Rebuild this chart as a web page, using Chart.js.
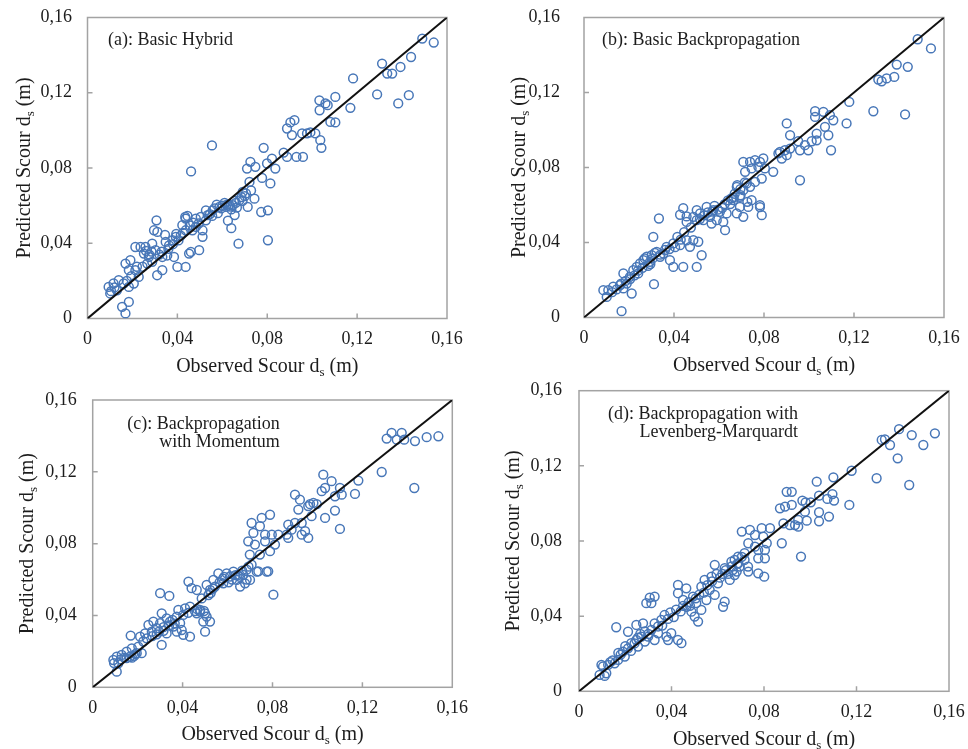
<!DOCTYPE html>
<html>
<head>
<meta charset="utf-8">
<script src="https://cdn.jsdelivr.net/npm/chart.js@4.4.1/dist/chart.umd.min.js"></script>
<style>
  html, body { margin: 0; padding: 0; background: #fff; }
  #wrap { position: relative; width: 968px; height: 749px; }
  #wrap canvas { position: absolute; left: 0; top: 0; }
</style>
</head>
<body>
<div id="wrap">
  <canvas id="chart-a" width="968" height="749"></canvas>
  <canvas id="chart-b" width="968" height="749"></canvas>
  <canvas id="chart-c" width="968" height="749"></canvas>
  <canvas id="chart-d" width="968" height="749"></canvas>
</div>
<script>
// tick values shared by both axes of every panel
const axisTicks = [0, 0.04, 0.08, 0.12, 0.16];
// 1:1 line
const lineEnds = [0, 0.16];

// [observed, predicted] pairs
const hybridPts = [
  [0.149,0.1488],[0.1541,0.1467],[0.144,0.139],[0.1393,0.1337],[0.1311,0.1355],[0.1334,0.1302],[0.1356,0.1302],
  [0.1182,0.1276],[0.1289,0.1191],[0.143,0.1187],[0.1383,0.1143],[0.117,0.112],[0.1032,0.116],[0.1103,0.1178],
  [0.1069,0.1134],[0.1033,0.1107],[0.1059,0.1143],[0.1081,0.1045],[0.1103,0.1042],[0.1036,0.0948],[0.1041,0.0907],
  [0.1014,0.0984],[0.0903,0.1042],[0.0921,0.1054],[0.0888,0.101],[0.091,0.0975],[0.0955,0.0984],[0.0977,0.0984],
  [0.0992,0.0989],[0.0784,0.0907],[0.0873,0.0882],[0.093,0.0859],[0.0959,0.0859],[0.0888,0.0859],[0.0821,0.085],
  [0.0799,0.0824],[0.0725,0.0833],[0.0747,0.0806],[0.071,0.0797],[0.0836,0.0797],[0.0814,0.0718],[0.0777,0.0747],
  [0.0554,0.092],[0.0461,0.0782],
  [0.0721,0.0726],[0.0691,0.0673],[0.0728,0.0681],[0.0743,0.0637],[0.0713,0.0593],[0.0676,0.0628],[0.0646,0.0602],
  [0.0616,0.0593],[0.0773,0.0566],[0.0803,0.0575],[0.0803,0.0416],[0.0672,0.0398],
  [0.0587,0.0593],[0.0557,0.0575],[0.0527,0.0575],[0.0504,0.054],[0.0482,0.0531],[0.0527,0.0522],
  [0.0437,0.0531],[0.0422,0.0496],[0.0437,0.0469],[0.0482,0.0487],[0.0512,0.0469],[0.0512,0.0434],[0.0467,0.0469],
  [0.0393,0.0434],[0.0378,0.0416],[0.0363,0.0389],[0.0348,0.0407],
  [0.0497,0.0363],[0.0452,0.0345],[0.046,0.0354],[0.0437,0.0274],[0.04,0.0274],[0.0385,0.0327],
  [0.0307,0.0522],[0.0296,0.0469],[0.0311,0.046],
  [0.0213,0.038],[0.0236,0.038],[0.0258,0.038],[0.0288,0.0398],[0.0251,0.0345],[0.0273,0.0327],[0.0333,0.0327],[0.0303,0.0363],
  [0.0266,0.0292],[0.0288,0.0301],[0.031,0.023],[0.0333,0.0257],
  [0.0169,0.0292],[0.0191,0.031],[0.0184,0.0257],[0.0213,0.0257],[0.0228,0.0221],
  [0.0139,0.0204],[0.0161,0.0186],[0.0184,0.0168],[0.0206,0.0186],
  [0.0094,0.0168],[0.0116,0.0186],[0.0101,0.0133],[0.0131,0.015],
  [0.0154,0.0062],[0.0169,0.0027],[0.0184,0.0088],
  [0.0565,0.0585],[0.06,0.06],[0.062,0.0605],[0.0635,0.0595],[0.058,0.056],[0.064,0.058],[0.066,0.0615],
  [0.0545,0.0555],[0.07,0.065],[0.069,0.0625],[0.0655,0.055],[0.0625,0.052],[0.064,0.048],
  [0.0345,0.0445],[0.038,0.0395],[0.0415,0.044],[0.0425,0.0455],[0.0445,0.0545],[0.0435,0.054],
  [0.033,0.0355],[0.0355,0.0335],[0.0245,0.0275],[0.0275,0.034],
  [0.0575,0.0605],[0.0595,0.0585],[0.061,0.0615],[0.063,0.0605],[0.0655,0.0625],[0.0665,0.059],[0.0685,0.0645],
  [0.0705,0.0665],[0.0535,0.055],[0.0555,0.0545],[0.0495,0.0505],[0.047,0.051],[0.0455,0.0495],[0.0405,0.0415],
  [0.0395,0.045],[0.036,0.037],[0.032,0.034],[0.0285,0.0355],[0.026,0.036],[0.022,0.0275],[0.0195,0.0225],
  [0.0175,0.02],[0.012,0.0165],[0.0105,0.0145]
];

const basicBpPts = [
  [0.1483,0.1484],[0.1542,0.1435],[0.139,0.1349],[0.1439,0.1337],[0.1379,0.1283],[0.1345,0.1275],[0.1323,0.126],
  [0.1308,0.1269],[0.1286,0.110],[0.1427,0.1083],[0.1179,0.115],[0.1167,0.1035],[0.1027,0.110],[0.1064,0.1097],
  [0.1027,0.107],[0.1093,0.1079],[0.1108,0.1052],[0.1071,0.1017],[0.1086,0.0972],[0.1034,0.0981],[0.1098,0.0892],
  [0.0901,0.1035],[0.0916,0.0972],[0.0952,0.094],[0.0982,0.0919],[0.1012,0.094],[0.1034,0.0945],[0.0997,0.0892],
  [0.096,0.0892],[0.0871,0.0883],[0.0893,0.0892],[0.0916,0.0901],[0.0879,0.0848],[0.0901,0.0866],[0.096,0.0732],
  [0.0708,0.083],[0.0738,0.083],[0.076,0.0839],[0.0782,0.083],[0.0797,0.0848],[0.0745,0.0795],[0.0775,0.0803],
  [0.0804,0.0795],[0.0716,0.0777],[0.079,0.0741],[0.076,0.0723],[0.0738,0.0697],[0.0841,0.0777],[0.0681,0.0706],
  [0.0696,0.0652],[0.0726,0.0617],[0.0782,0.0589],[0.0864,0.0875],
  [0.0333,0.0528],[0.0441,0.0583],[0.0427,0.0548],[0.0456,0.0539],[0.0308,0.043],[0.0311,0.0178],[0.0167,0.0034],
  [0.0679,0.0697],[0.0708,0.0679],[0.0723,0.0715],[0.0693,0.0644],[0.0745,0.0626],[0.073,0.059],[0.0693,0.059],
  [0.0664,0.0626],[0.0679,0.0555],[0.0708,0.0537],
  [0.079,0.0546],[0.0782,0.0599],[0.0627,0.0466],
  [0.0634,0.0555],[0.0604,0.0564],[0.0575,0.0572],[0.0545,0.059],[0.056,0.0537],[0.0516,0.0555],[0.0501,0.0519],
  [0.053,0.0519],[0.059,0.0519],[0.0619,0.051],[0.0567,0.0501],[0.0501,0.0572],[0.0486,0.0537],[0.0456,0.051],
  [0.0486,0.0412],[0.0508,0.0404],[0.0456,0.0412],[0.0427,0.0386],[0.0471,0.0377],[0.0523,0.0332],[0.0501,0.027],
  [0.0441,0.027],[0.0397,0.027],[0.0382,0.0306],
  [0.0397,0.0395],[0.0367,0.0377],[0.0353,0.0341],[0.0323,0.035],[0.0338,0.0324],[0.0301,0.0332],[0.0279,0.0324],
  [0.0264,0.0306],[0.0293,0.0297],[0.0249,0.0288],[0.0234,0.027],[0.0219,0.0252],[0.0241,0.0235],
  [0.0175,0.0235],[0.0204,0.0217],[0.019,0.0181],[0.016,0.0172],[0.013,0.0164],[0.0108,0.0146],[0.0086,0.0146],
  [0.0101,0.011],[0.0212,0.0128],[0.0175,0.0155],
  [0.0285,0.0275],[0.027,0.0315],[0.0315,0.0345],[0.036,0.036],[0.0415,0.043],[0.0445,0.0455],[0.055,0.056],
  [0.058,0.0595],[0.0615,0.0585],[0.065,0.0605],[0.067,0.066],[0.0655,0.0635],[0.0185,0.0195],[0.0145,0.015],[0.0225,0.0225],
  [0.057,0.0565],[0.0595,0.0575],[0.0625,0.0605],[0.064,0.0625],[0.0665,0.064],[0.0535,0.0545],[0.0515,0.0525],
  [0.0475,0.048],[0.043,0.0415],[0.0405,0.0375],[0.038,0.0365],[0.034,0.0335],[0.0305,0.0315],[0.0295,0.0285],
  [0.026,0.0265],[0.024,0.025],[0.0205,0.0205],[0.0165,0.018],[0.0125,0.0135],[0.0695,0.0685],[0.0715,0.072]
];

const momentumPts = [
  [0.133,0.1417],[0.1375,0.1417],[0.1308,0.1385],[0.1353,0.1379],[0.1386,0.1379],[0.1434,0.1371],[0.1486,0.1393],
  [0.1538,0.1398],[0.1286,0.1199],[0.1431,0.111],[0.1182,0.1151],[0.1167,0.1077],[0.1026,0.1184],[0.1063,0.1148],
  [0.1034,0.111],[0.11,0.111],[0.1078,0.1064],[0.1108,0.1073],[0.1019,0.1092],[0.1078,0.0984],[0.1034,0.0943],
  [0.11,0.0882],[0.09,0.1073],[0.0922,0.1045],[0.0915,0.099],[0.0967,0.102],[0.0959,0.1009],[0.0982,0.1027],
  [0.0997,0.102],[0.0974,0.0953],[0.093,0.0915],[0.0945,0.0869],[0.0959,0.0832],[0.087,0.0906],[0.09,0.0915],
  [0.0885,0.0878],[0.093,0.085],[0.0863,0.085],
  [0.0707,0.0915],[0.0744,0.0897],[0.0789,0.0961],[0.0752,0.0943],[0.0715,0.086],[0.0767,0.085],[0.0797,0.085],
  [0.0826,0.085],[0.087,0.0832],[0.0811,0.0795],[0.0789,0.0758],[0.0722,0.0795],[0.0744,0.0739],[0.0767,0.0813],
  [0.0692,0.0813],[0.0699,0.0739],[0.0707,0.0683],[0.0737,0.0646],[0.0781,0.0646],[0.0804,0.0516],[0.0685,0.06],
  [0.03,0.0524],[0.0341,0.0509],[0.0169,0.0288],[0.0107,0.0087],
  [0.0774,0.0644],[0.073,0.0644],[0.0693,0.0672],[0.067,0.0626],[0.0641,0.0598],[0.0626,0.0644],[0.0611,0.0617],
  [0.0596,0.0635],[0.0581,0.0579],[0.0559,0.0635],[0.0544,0.0561],[0.0522,0.0542],[0.0507,0.057],[0.0515,0.0514],
  [0.0537,0.0598],[0.0656,0.0561],[0.0678,0.0579],[0.07,0.0598],
  [0.0426,0.0589],[0.044,0.0552],[0.0463,0.0542],
  [0.0478,0.0431],[0.05,0.0412],[0.0492,0.0366],[0.0507,0.0394],[0.0463,0.0412],[0.0522,0.0366],[0.05,0.031],[0.0478,0.0422],
  [0.0433,0.0449],[0.0411,0.044],[0.0381,0.0431],[0.0403,0.0403],[0.0374,0.0394],[0.0389,0.0357],[0.0359,0.0338],
  [0.0344,0.0366],[0.0374,0.031],[0.0403,0.0292],[0.0433,0.0282],[0.0396,0.0319],
  [0.0307,0.0412],[0.0329,0.0384],[0.03,0.0357],[0.0285,0.0329],[0.027,0.0366],[0.0248,0.0347],[0.0263,0.031],
  [0.0233,0.03],[0.0211,0.0282],[0.0307,0.0236],[0.024,0.0273],[0.0329,0.03],
  [0.0203,0.0227],[0.0174,0.0217],[0.0151,0.0199],[0.0196,0.019],[0.0129,0.018],[0.0107,0.0171],[0.0092,0.0152],
  [0.0151,0.0162],[0.0218,0.019],[0.0114,0.0134],
  [0.0185,0.0175],[0.0165,0.017],[0.0125,0.0155],[0.0285,0.0295],[0.0315,0.0335],[0.0355,0.0375],[0.0455,0.0425],
  [0.058,0.0605],[0.0605,0.0585],[0.0635,0.0625],[0.0655,0.0615],[0.0485,0.0495],[0.0525,0.0525],
  [0.0565,0.0585],[0.0585,0.0615],[0.062,0.06],[0.0645,0.0625],[0.0665,0.065],[0.0685,0.0655],[0.0535,0.055],
  [0.0495,0.0425],[0.0465,0.0435],[0.0425,0.0415],[0.0365,0.0355],[0.034,0.0345],[0.0315,0.0315],[0.0295,0.031],
  [0.0265,0.0285],[0.0225,0.0255],[0.019,0.0185],[0.0175,0.0165],[0.014,0.0165],[0.0095,0.0135]
];

const levenbergPts = [
  [0.1384,0.1395],[0.1439,0.1364],[0.1539,0.1373],[0.1489,0.1311],[0.1323,0.1341],[0.1309,0.1338],[0.1345,0.1311],
  [0.1378,0.124],[0.1287,0.1134],[0.1428,0.1098],[0.1179,0.1174],[0.11,0.1139],[0.1028,0.1116],[0.1038,0.1041],
  [0.1096,0.105],[0.1074,0.1024],[0.1103,0.1015],[0.1169,0.0992],[0.0966,0.1015],[0.098,0.1006],[0.1002,0.1006],
  [0.1038,0.0953],[0.1081,0.093],[0.1038,0.0905],[0.0898,0.1062],[0.092,0.1062],[0.0869,0.0974],[0.0891,0.0983],
  [0.092,0.0992],[0.0977,0.0956],[0.0948,0.0912],[0.0985,0.0908],[0.0934,0.0885],[0.0884,0.0894],[0.0912,0.0885],
  [0.0948,0.0876],[0.0877,0.0788],[0.096,0.0717],
  [0.0704,0.085],[0.0739,0.0859],[0.079,0.0868],[0.0826,0.0868],[0.0761,0.0832],[0.0797,0.0823],[0.0732,0.0788],
  [0.0761,0.077],[0.0812,0.0788],[0.0775,0.0752],[0.0804,0.0752],[0.0775,0.0708],[0.0804,0.0708],[0.0732,0.0637],
  [0.0775,0.0628],[0.0801,0.061],[0.0689,0.0681],[0.0704,0.0716],[0.0682,0.0637],
  [0.0161,0.0341],[0.0306,0.0499],[0.0327,0.0504],[0.0291,0.0469],[0.0313,0.0469],[0.0443,0.0256],[0.0399,0.0309],[0.0378,0.0291],
  [0.0428,0.0566],[0.0464,0.0548],[0.0428,0.0522],[0.045,0.0486],
  [0.0507,0.0469],[0.0529,0.0433],[0.05,0.0398],[0.0486,0.0424],[0.0515,0.0371],[0.0493,0.0504],
  [0.0587,0.0673],[0.063,0.0655],[0.0659,0.069],[0.0688,0.0717],[0.0673,0.0619],[0.0652,0.0593],[0.063,0.0477],
  [0.0623,0.045],[0.0601,0.0575],[0.0573,0.061],[0.0543,0.0593],[0.0529,0.0557],[0.0565,0.054],[0.0587,0.0513],[0.0551,0.0486],
  [0.0716,0.0735],[0.0731,0.0664],[0.0695,0.0664],[0.0673,0.0699],[0.0716,0.0699],
  [0.037,0.0406],[0.0356,0.038],[0.0342,0.0345],[0.0327,0.0362],[0.0313,0.0327],[0.0284,0.0319],[0.0299,0.0291],
  [0.027,0.0291],[0.0248,0.0273],[0.0255,0.0238],[0.0226,0.0256],[0.0212,0.0229],[0.019,0.0211],[0.0198,0.0185],
  [0.0169,0.0167],[0.0154,0.0149],[0.0126,0.0141],[0.0104,0.0132],[0.0097,0.0141],[0.0118,0.0096],[0.0111,0.0082],
  [0.0089,0.0087],[0.0212,0.0317],[0.0248,0.0353],[0.0277,0.0362],[0.0342,0.0309],[0.0327,0.0273],[0.0385,0.0273],[0.0428,0.0273],
  [0.0395,0.042],[0.042,0.0435],[0.045,0.0455],[0.0475,0.0475],[0.0255,0.0285],[0.0225,0.0215],[0.018,0.0195],
  [0.0145,0.0165],[0.0285,0.0265],[0.052,0.0515],[0.0555,0.0565],[0.061,0.0605],[0.0645,0.0625],[0.066,0.0665],
  [0.0575,0.0585],[0.0595,0.0625],[0.062,0.0625],[0.0635,0.0645],[0.0665,0.0645],[0.0685,0.068],[0.054,0.0525],
  [0.0505,0.0495],[0.048,0.0455],[0.0465,0.045],[0.044,0.0425],[0.041,0.0395],[0.0385,0.0385],[0.036,0.035],
  [0.03,0.0305],[0.0265,0.0305],[0.024,0.0255],[0.02,0.024],[0.017,0.0205],[0.0135,0.0155]
];

const FONT = "'Liberation Serif', 'Times New Roman', serif";
const INK = "#1c1c1c";

const panels = [
  { id: "chart-a", points: hybridPts, label: ["(a): Basic Hybrid"], align: "left", lx: 20.5, ly: 27.5,
    area: { l: 87.5, t: 17.5, r: 447, b: 318.5 }, yPad: 15.5, yTitleX: 30, xTitleY: 372 },
  { id: "chart-b", points: basicBpPts, label: ["(b): Basic Backpropagation"], align: "left", lx: 18, ly: 27.5,
    area: { l: 584, t: 17.5, r: 944, b: 317.5 }, yPad: 24, yTitleX: 525, xTitleY: 371 },
  { id: "chart-c", points: momentumPts, label: ["(c): Backpropagation", "with Momentum"], align: "right", lx: 187, ly: 29,
    area: { l: 92.7, t: 400, r: 452.3, b: 687.3 }, yPad: 16, yTitleX: 33, xTitleY: 740 },
  { id: "chart-d", points: levenbergPts, label: ["(d): Backpropagation with", "Levenberg-Marquardt"], align: "right", lx: 219, ly: 28,
    area: { l: 579, t: 390.7, r: 949, b: 691.3 }, yPad: 17, yTitleX: 519, xTitleY: 745 }
];

function drawSubTitle(ctx, main, tail, cx, cy, rot) {
  ctx.save();
  ctx.translate(cx, cy);
  ctx.rotate(rot);
  ctx.fillStyle = INK;
  ctx.textBaseline = "alphabetic";
  ctx.textAlign = "left";
  const big = "20px " + FONT, small = "13px " + FONT;
  ctx.font = big;
  const w1 = ctx.measureText(main).width, w3 = ctx.measureText(tail).width;
  ctx.font = small;
  const w2 = ctx.measureText("s").width;
  const x0 = -(w1 + w2 + w3) / 2;
  ctx.font = big;
  ctx.fillText(main, x0, 0);
  ctx.font = small;
  ctx.fillText("s", x0 + w1, 4);
  ctx.font = big;
  ctx.fillText(tail, x0 + w1 + w2, 0);
  ctx.restore();
}

const decor = {
  id: "decor",
  beforeDatasetsDraw(chart, args, o) {
    const { ctx, chartArea: a, scales } = chart;
    ctx.save();
    ctx.strokeStyle = "#a3a3a3";
    ctx.lineWidth = 1.5;
    ctx.strokeRect(a.left, a.top, a.right - a.left, a.bottom - a.top);
    ctx.beginPath();
    axisTicks.slice(1, -1).forEach((v) => {
      const px = scales.x.getPixelForValue(v);
      const py = scales.y.getPixelForValue(v);
      ctx.moveTo(px, a.bottom);
      ctx.lineTo(px, a.bottom - 5);
      ctx.moveTo(a.left, py);
      ctx.lineTo(a.left + 5, py);
    });
    ctx.stroke();
    ctx.restore();
  },
  afterDraw(chart, args, o) {
    const { ctx, chartArea: a } = chart;
    drawSubTitle(ctx, "Observed Scour d", " (m)", (a.left + a.right) / 2, o.xTitleY, 0);
    drawSubTitle(ctx, "Predicted Scour d", " (m)", o.yTitleX, (a.top + a.bottom) / 2, -Math.PI / 2);
    ctx.save();
    ctx.fillStyle = INK;
    ctx.font = "18px " + FONT;
    ctx.textAlign = o.align;
    ctx.textBaseline = "alphabetic";
    o.label.forEach((line, i) => {
      ctx.fillText(line, a.left + o.lx, a.top + o.ly + i * 18);
    });
    ctx.restore();
  }
};

function tickText(v) {
  return v === 0 ? "0" : v.toFixed(2).replace(".", ",");
}

function makeChart(p) {
  const yW = 80, xH = 40;
  const cfg = {
    type: "scatter",
    data: {
      datasets: [
        {
          type: "line",
          data: lineEnds.map((v) => ({ x: v, y: v })),
          borderColor: "#111",
          borderWidth: 2,
          pointRadius: 0,
          fill: false
        },
        {
          data: p.points.map((d) => ({ x: d[0], y: d[1] })),
          pointStyle: "circle",
          pointRadius: 4.4,
          pointBorderWidth: 1.5,
          borderColor: "#4877b8",
          backgroundColor: "rgba(0,0,0,0)"
        }
      ]
    },
    options: {
      responsive: false,
      animation: false,
      events: [],
      layout: {
        padding: { left: p.area.l - yW, top: p.area.t, right: 968 - p.area.r, bottom: 749 - p.area.b - xH }
      },
      plugins: {
        legend: { display: false },
        tooltip: { enabled: false },
        decor: { label: p.label, align: p.align, lx: p.lx, ly: p.ly, yTitleX: p.yTitleX, xTitleY: p.xTitleY }
      },
      scales: {
        x: {
          type: "linear",
          min: 0,
          max: 0.16,
          grid: { display: false, drawTicks: false },
          border: { display: false },
          afterBuildTicks: (s) => { s.ticks = axisTicks.map((v) => ({ value: v })); },
          afterFit: (s) => { s.height = xH; s.paddingLeft = 0; s.paddingRight = 0; },
          ticks: { padding: 10, color: INK, font: { family: FONT, size: 18 }, maxRotation: 0, autoSkip: false, callback: tickText }
        },
        y: {
          type: "linear",
          min: 0,
          max: 0.16,
          grid: { display: false, drawTicks: false },
          border: { display: false },
          afterBuildTicks: (s) => { s.ticks = axisTicks.map((v) => ({ value: v })); },
          afterFit: (s) => { s.width = yW; s.paddingTop = 0; s.paddingBottom = 0; },
          ticks: { padding: p.yPad, color: INK, font: { family: FONT, size: 18 }, autoSkip: false, callback: tickText }
        }
      }
    },
    plugins: [decor]
  };
  return new Chart(document.getElementById(p.id), cfg);
}

panels.forEach(makeChart);
</script>
</body>
</html>
